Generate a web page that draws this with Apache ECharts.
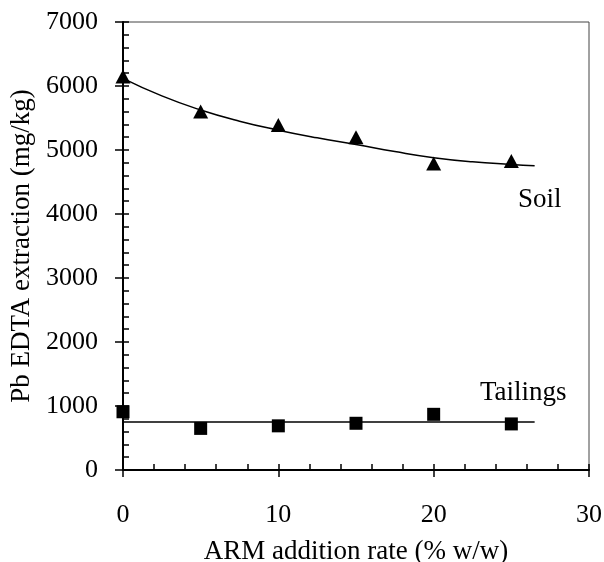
<!DOCTYPE html>
<html>
<head>
<meta charset="utf-8">
<script src="https://cdn.jsdelivr.net/npm/echarts@6/dist/echarts.min.js"></script>
<style>
  html, body { margin: 0; padding: 0; background: #fff; }
  #main { width: 604px; height: 562px; }
</style>
</head>
<body>
<div id="main"></div>
<script>
// measured points
var rates = [0, 5, 10, 15, 20, 25];
var soilValues = [6150, 5600, 5390, 5200, 4790, 4830];
var tailingsValues = [910, 650, 690, 730, 870, 720];

// fitted curves
var soilFitX = [0, 2.5, 5, 7.5, 10, 12.5, 15, 17.5, 20, 22.5, 25, 26.5];
var soilFitY = [6120, 5845, 5625, 5450, 5310, 5190, 5085, 4975, 4880, 4815, 4775, 4755];
var tailingsFitX = [0, 26.5];
var tailingsFitY = [750, 750];

function pairs(xs, ys) {
  return xs.map(function (x, i) { return [x, ys[i]]; });
}

var font = '"Liberation Serif", "Times New Roman", serif';

var chartDom = document.getElementById('main');
var myChart = echarts.init(chartDom);
var option = {
  animation: false,
  textStyle: { fontFamily: font },
  grid: {
    left: 123, right: 15, top: 22, bottom: 92,
    outerBoundsMode: 'none',
    show: true, borderColor: '#444', borderWidth: 1
  },
  xAxis: [
    {
      type: 'value', min: 0, max: 30, interval: 10,
      name: 'ARM addition rate (% w/w)',
      nameLocation: 'middle', nameGap: 68,
      nameTextStyle: { fontFamily: font, fontSize: 27, color: '#000' },
      axisLine: { onZero: false, lineStyle: { color: '#000', width: 2 } },
      axisTick: { inside: false, length: 7, lineStyle: { color: '#000', width: 1.5 } },
      axisLabel: { fontFamily: font, fontSize: 26, color: '#000', margin: 32,
        formatter: function (v) { return String(v); } },
      splitLine: { show: false }
    },
    {
      type: 'value', min: 0, max: 30, interval: 10, position: 'bottom',
      axisLine: { show: false, onZero: false },
      axisTick: { inside: true, length: 6, lineStyle: { color: '#000', width: 1.5 } },
      minorTick: { show: true, splitNumber: 5, length: 6, lineStyle: { color: '#000', width: 1.5 } },
      axisLabel: { show: false },
      splitLine: { show: false }
    }
  ],
  yAxis: [
    {
      type: 'value', min: 0, max: 7000, interval: 1000,
      name: 'Pb EDTA extraction (mg/kg)',
      nameLocation: 'middle', nameGap: 88,
      nameTextStyle: { fontFamily: font, fontSize: 27, color: '#000' },
      axisLine: { onZero: false, lineStyle: { color: '#000', width: 2 } },
      axisTick: { inside: false, length: 8, lineStyle: { color: '#000', width: 1.5 } },
      axisLabel: { fontFamily: font, fontSize: 26, color: '#000', margin: 25,
        formatter: function (v) { return String(v); } },
      splitLine: { show: false }
    },
    {
      type: 'value', min: 0, max: 7000, interval: 1000, position: 'left',
      axisLine: { show: false, onZero: false },
      axisTick: { inside: true, length: 6, lineStyle: { color: '#000', width: 1.5 } },
      minorTick: { show: true, splitNumber: 5, length: 6, lineStyle: { color: '#000', width: 1.5 } },
      axisLabel: { show: false },
      splitLine: { show: false }
    }
  ],
  graphic: [
    {
      type: 'text', left: 518, top: 186,
      style: { text: 'Soil', font: '27px ' + font, fill: '#000' }
    },
    {
      type: 'text', left: 480, top: 379,
      style: { text: 'Tailings', font: '27px ' + font, fill: '#000' }
    }
  ],
  series: [
    {
      name: 'Soil fit', type: 'line', smooth: true, symbol: 'none',
      data: pairs(soilFitX, soilFitY),
      lineStyle: { color: '#000', width: 1.5 }, z: 2
    },
    {
      name: 'Tailings fit', type: 'line', symbol: 'none',
      data: pairs(tailingsFitX, tailingsFitY),
      lineStyle: { color: '#000', width: 1.5 }, z: 2
    },
    {
      name: 'Soil', type: 'scatter', symbol: 'triangle', symbolSize: [15, 14],
      data: pairs(rates, soilValues),
      itemStyle: { color: '#000', opacity: 1 }, z: 3
    },
    {
      name: 'Tailings', type: 'scatter', symbol: 'rect', symbolSize: 13,
      data: pairs(rates, tailingsValues),
      itemStyle: { color: '#000', opacity: 1 }, z: 3
    }
  ]
};

option && myChart.setOption(option);

window.onresize = function () {
  myChart.resize();
};
</script>
</body>
</html>
